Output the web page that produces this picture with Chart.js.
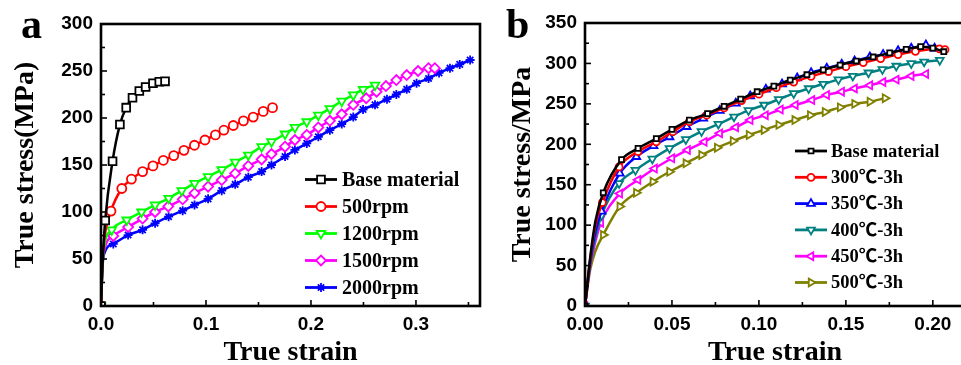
<!DOCTYPE html>
<html>
<head>
<meta charset="utf-8">
<script src="https://cdn.jsdelivr.net/npm/chart.js@4.4.1/dist/chart.umd.min.js"></script>
<style>
  html, body { margin: 0; padding: 0; background: #fff; overflow: hidden; width: 961px; height: 365px; }
  .wrap { position: absolute; left: 0; top: 0; width: 1000px; height: 380px; }
  .tag { position: absolute; top: 3px; font: bold 42px "Liberation Serif", "Times New Roman", serif; line-height: 42px; color: #000; }
</style>
</head>
<body>
<div class="wrap"><canvas id="chartA"></canvas></div>
<div class="wrap"><canvas id="chartB"></canvas></div>
<div class="tag" style="left:21px">a</div>
<div class="tag" style="left:506px">b</div>
<script>
// ---- panel a: rotation speed ----
var aBaseX = [0, 0.0015, 0.004, 0.011, 0.018, 0.024, 0.030, 0.0365, 0.0425, 0.0495, 0.0555, 0.061];
var aBaseY = [0, 45, 91, 154, 193, 211, 221.6, 228.7, 233, 237, 238.6, 239];
var a500X = [0, 0.0012, 0.0028, 0.0095, 0.0198, 0.029, 0.0396, 0.0495, 0.0594, 0.0693, 0.079, 0.089, 0.099, 0.109, 0.117, 0.126, 0.1357, 0.145, 0.1545, 0.1634];
var a500Y = [0, 42, 68, 101, 125, 135, 143, 149, 155, 160, 165.6, 171, 176.6, 182, 187, 192, 197, 201, 207, 211];
var a1200X = [0, 0.0012, 0.0028, 0.0102, 0.0245, 0.0386, 0.0515, 0.0644, 0.0769, 0.0891, 0.102, 0.115, 0.1278, 0.1403, 0.153, 0.1624, 0.1753, 0.1847, 0.196, 0.207, 0.218, 0.2293, 0.2403, 0.2496, 0.261];
var a1200Y = [0, 40, 62, 81, 91.5, 100, 107.5, 114.6, 122.7, 130.5, 137.6, 145, 153, 160.6, 169.5, 174.8, 183, 190, 196, 203, 210, 218, 224.5, 230.5, 235];
var a1500X = [0, 0.0012, 0.0028, 0.0117, 0.0258, 0.0396, 0.0515, 0.0641, 0.0778, 0.0891, 0.102, 0.115, 0.1278, 0.1403, 0.153, 0.1624, 0.1753, 0.1847, 0.196, 0.207, 0.218, 0.2293, 0.2403, 0.2526, 0.2625, 0.2714, 0.2813, 0.2912, 0.302, 0.312, 0.318];
var a1500Y = [0, 40, 58, 74.5, 84, 93, 100, 106, 113.5, 120, 127, 134, 141, 149, 156, 161.7, 169.5, 176.6, 182, 190, 197, 204, 214, 221, 228, 234, 240.4, 245.7, 250, 253, 253];
var a2000X = [0, 0.0012, 0.0028, 0.0117, 0.0258, 0.0396, 0.0515, 0.0644, 0.0778, 0.0891, 0.102, 0.115, 0.1278, 0.1403, 0.153, 0.1624, 0.1753, 0.1847, 0.196, 0.207, 0.218, 0.2293, 0.2403, 0.2496, 0.261, 0.2724, 0.2813, 0.2912, 0.3006, 0.312, 0.322, 0.3324, 0.3417, 0.3516];
var a2000Y = [0, 38, 55, 66, 75.5, 81, 88, 95, 101.4, 107.5, 114, 122.7, 129.4, 137, 143, 150, 159, 166, 173, 180, 187, 193.6, 201, 209, 214, 220, 225, 230.5, 237, 242, 248, 253, 257, 261.7];
var aLabels = ['Base material', '500rpm', '1200rpm', '1500rpm', '2000rpm'];

// ---- panel b: heat treatment ----
var bBaseX = [0, 0.003, 0.006, 0.0105, 0.021, 0.0305, 0.041, 0.050, 0.060, 0.0705, 0.080, 0.0895, 0.099, 0.1086, 0.118, 0.1276, 0.137, 0.1467, 0.156, 0.1657, 0.1752, 0.1847, 0.193, 0.200, 0.2063];
var bBaseY = [0, 60, 105, 140, 181, 195, 207, 218.5, 230, 238, 247, 256, 265, 272, 279.5, 286, 292, 298, 303, 308, 313, 317.5, 320.7, 319, 314.5];
var b300X = [0, 0.003, 0.006, 0.010, 0.0196, 0.0305, 0.041, 0.0505, 0.060, 0.070, 0.080, 0.090, 0.100, 0.110, 0.120, 0.130, 0.140, 0.150, 0.160, 0.170, 0.180, 0.190, 0.2038, 0.207];
var b300Y = [0, 58, 100, 128, 172, 191, 203, 215.6, 228, 236, 245, 254, 262, 270, 277, 284, 290, 296, 301, 306, 311, 315, 318, 317];
var b350X = [0, 0.003, 0.006, 0.0095, 0.020, 0.0295, 0.0394, 0.0486, 0.0585, 0.068, 0.0775, 0.0867, 0.095, 0.104, 0.1133, 0.122, 0.130, 0.139, 0.1476, 0.155, 0.1638, 0.1714, 0.180, 0.1876, 0.196, 0.201];
var b350Y = [0, 55, 92, 117, 164, 184.6, 198, 209, 221.7, 232, 241.6, 250.7, 259.7, 268, 274.5, 282, 288.5, 294, 299, 303, 308, 311, 315.7, 318.7, 322.8, 318.7];
var b400X = [0, 0.003, 0.006, 0.0095, 0.0196, 0.029, 0.0387, 0.0486, 0.058, 0.067, 0.0767, 0.0857, 0.094, 0.103, 0.1114, 0.12, 0.1286, 0.137, 0.1457, 0.154, 0.163, 0.171, 0.179, 0.1876, 0.195, 0.204];
var b400Y = [0, 52, 85, 112, 151.7, 168, 182, 195, 206, 216, 225, 234, 242, 248.6, 255.6, 263, 269, 274.5, 280, 284.4, 288.5, 292.6, 296.8, 300, 302, 304];
var b450X = [0, 0.003, 0.006, 0.0091, 0.020, 0.0305, 0.040, 0.050, 0.059, 0.0686, 0.0775, 0.0867, 0.095, 0.1038, 0.1124, 0.121, 0.1305, 0.139, 0.1476, 0.155, 0.1638, 0.1714, 0.179, 0.1876, 0.196];
var b450Y = [0, 50, 80, 103, 139, 156, 170, 182.7, 193, 203, 213.5, 221, 230, 236, 243, 248.6, 254.7, 261, 265, 269, 273, 277, 280, 284.4, 287];
var b500X = [0, 0.003, 0.006, 0.0105, 0.020, 0.0295, 0.039, 0.0486, 0.058, 0.067, 0.076, 0.0851, 0.0943, 0.1029, 0.1114, 0.1206, 0.1295, 0.138, 0.1467, 0.155, 0.1638, 0.1725];
var b500Y = [0, 45, 68, 88, 123, 140, 153.7, 166, 176.5, 186.7, 195.8, 204, 211.5, 217.7, 224, 230, 236, 240, 245.7, 250, 252.7, 257];
var bLabels = ['Base material', '300\u2103-3h', '350\u2103-3h', '400\u2103-3h', '450\u2103-3h', '500\u2103-3h'];

var serif = '"Liberation Serif", "Times New Roman", "Noto Sans CJK SC", serif';
var sans = '"Liberation Sans", Arial, sans-serif';

function pts(xs, ys) {
  return xs.map(function (x, i) { return { x: x, y: ys[i] }; });
}

// markers are left off the steep elastic start, as in the original plot
function series(label, xs, ys, color, style, rot, r, rampEnd) {
  return {
    label: label,
    data: pts(xs, ys),
    borderColor: color,
    borderWidth: 2.5,
    backgroundColor: '#fff',
    pointBackgroundColor: '#fff',
    pointBorderColor: color,
    pointBorderWidth: 1.8,
    pointStyle: style,
    pointRotation: rot,
    legendRadius: r,
    pointRadius: function (ctx) {
      var p = ctx.raw;
      return (p && p.x > 0 && p.x < rampEnd) ? 0 : r;
    },
    pointHoverRadius: r,
    cubicInterpolationMode: 'monotone',
    fill: false
  };
}

// inward ticks and the closed frame around the plot
var frameTicks = {
  id: 'frameTicks',
  afterDatasetsDraw: function (chart, args, o) {
    var ctx = chart.ctx, a = chart.chartArea, xs = chart.scales.x, ys = chart.scales.y;
    ctx.save();
    ctx.strokeStyle = '#000';
    ctx.lineWidth = 1.6;
    var n = Math.floor(xs.max / o.xMinor + 1e-6);
    for (var i = 1; i <= n; i++) {
      var px = xs.getPixelForValue(i * o.xMinor);
      var len = i % 2 === 0 ? 6 : 4;
      ctx.beginPath(); ctx.moveTo(px, a.bottom); ctx.lineTo(px, a.bottom - len); ctx.stroke();
    }
    n = Math.floor(ys.max / o.yMinor + 1e-6);
    for (var j = 1; j <= n; j++) {
      var py = ys.getPixelForValue(j * o.yMinor);
      var l2 = j % 2 === 0 ? 6 : 4;
      ctx.beginPath(); ctx.moveTo(a.left, py); ctx.lineTo(a.left + l2, py); ctx.stroke();
    }
    ctx.lineWidth = 2.6;
    ctx.strokeRect(a.left, a.top, a.right - a.left, a.bottom - a.top);
    ctx.restore();
  }
};

// legend with a line segment and the marker in the middle
var lineLegend = {
  id: 'lineLegend',
  afterDraw: function (chart, args, o) {
    var ctx = chart.ctx;
    ctx.save();
    ctx.font = o.font;
    ctx.textBaseline = 'middle';
    ctx.textAlign = 'left';
    chart.data.datasets.forEach(function (ds, i) {
      var y = o.y + i * o.gap;
      ctx.strokeStyle = ds.borderColor;
      ctx.lineWidth = 2.8;
      ctx.beginPath(); ctx.moveTo(o.x, y); ctx.lineTo(o.x + o.len, y); ctx.stroke();
      ctx.fillStyle = '#fff';
      ctx.lineWidth = 1.8;
      Chart.helpers.drawPoint(ctx, {
        pointStyle: ds.pointStyle, rotation: ds.pointRotation,
        radius: ds.legendRadius, borderWidth: 1.8
      }, o.x + o.len / 2, y);
      ctx.fillStyle = '#000';
      ctx.fillText(ds.label, o.x + o.len + o.textGap, y + 1);
    });
    ctx.restore();
  }
};

// labelled ticks only at whole steps, never at the axis end
function stepTicks(step) {
  return function (s) {
    var out = [];
    var n = Math.floor(s.max / step + 1e-6);
    for (var i = 0; i <= n; i++) out.push({ value: +(i * step).toFixed(6) });
    s.ticks = out;
  };
}

function makeChart(id, datasets, opt) {
  return new Chart(document.getElementById(id), {
    type: 'line',
    data: { datasets: datasets },
    plugins: [frameTicks, lineLegend],
    options: {
      responsive: true,
      maintainAspectRatio: false,
      animation: false,
      events: [],
      layout: { padding: opt.padding },
      plugins: {
        legend: { display: false },
        tooltip: { enabled: false },
        frameTicks: { xMinor: opt.xMinor, yMinor: opt.yMinor },
        lineLegend: opt.legend
      },
      scales: {
        x: {
          type: 'linear', min: 0, max: opt.xMax,
          grid: { display: false, drawTicks: false },
          border: { display: false },
          afterFit: function (s) { s.height = opt.xHeight; },
          afterBuildTicks: stepTicks(opt.xMinor * 2),
          ticks: {
            padding: 7, autoSkip: false, maxRotation: 0,
            color: '#000', font: { family: sans, weight: 'bold', size: 19 },
            callback: function (v) { return v.toFixed(opt.xDigits); }
          },
          title: {
            display: true, text: 'True strain', color: '#000',
            font: { family: serif, weight: 'bold', size: 28 },
            padding: { top: 0, bottom: 10 }
          }
        },
        y: {
          type: 'linear', min: 0, max: opt.yMax,
          grid: { display: false, drawTicks: false },
          border: { display: false },
          afterFit: function (s) { s.width = opt.yWidth; },
          afterBuildTicks: stepTicks(opt.yMinor * 2),
          ticks: {
            padding: 8, autoSkip: false,
            color: '#000', font: { family: sans, weight: 'bold', size: 19 }
          },
          title: {
            display: true, text: opt.yTitle, color: '#000',
            font: { family: serif, weight: 'bold', size: 28 },
            padding: { top: opt.yTitlePad, bottom: 0 }
          }
        }
      }
    }
  });
}

var aSets = [
  series(aLabels[0], aBaseX, aBaseY, '#000000', 'rect', 0, 5.5, 0.003),
  series(aLabels[1], a500X, a500Y, '#ff0000', 'circle', 0, 4.5, 0.003),
  series(aLabels[2], a1200X, a1200Y, '#00ff00', 'triangle', 180, 5, 0.003),
  series(aLabels[3], a1500X, a1500Y, '#ff00ff', 'rectRot', 0, 5, 0.003),
  series(aLabels[4], a2000X, a2000Y, '#0000ff', 'star', 0, 4.5, 0.003)
];

var bSets = [
  series(bLabels[0], bBaseX, bBaseY, '#000000', 'rect', 0, 3.5, 0.008),
  series(bLabels[1], b300X, b300Y, '#ff0000', 'circle', 0, 3.5, 0.008),
  series(bLabels[2], b350X, b350Y, '#0000ff', 'triangle', 0, 4.5, 0.008),
  series(bLabels[3], b400X, b400Y, '#008080', 'triangle', 180, 4.5, 0.008),
  series(bLabels[4], b450X, b450Y, '#ff00ff', 'triangle', 270, 4.5, 0.008),
  series(bLabels[5], b500X, b500Y, '#808000', 'triangle', 90, 4.5, 0.008)
];

makeChart('chartA', aSets, {
  padding: { left: 0, top: 24, right: 520, bottom: 0 },
  xMax: 0.361, xMinor: 0.05, xDigits: 1, xHeight: 74,
  yMax: 300, yMinor: 25, yWidth: 101,
  yTitle: 'True stress(MPa)', yTitlePad: 9,
  legend: { x: 305, y: 179.5, gap: 27, len: 32, textGap: 5, font: 'bold 20px ' + serif }
});

makeChart('chartB', bSets, {
  padding: { left: 480, top: 23, right: 35, bottom: 0 },
  xMax: 0.2185, xMinor: 0.025, xDigits: 2, xHeight: 74,
  yMax: 350, yMinor: 25, yWidth: 105,
  yTitle: 'True stress/MPa', yTitlePad: 26,
  legend: { x: 795, y: 151, gap: 26.3, len: 32, textGap: 4, font: 'bold 18.5px ' + serif }
});
</script>
</body>
</html>
